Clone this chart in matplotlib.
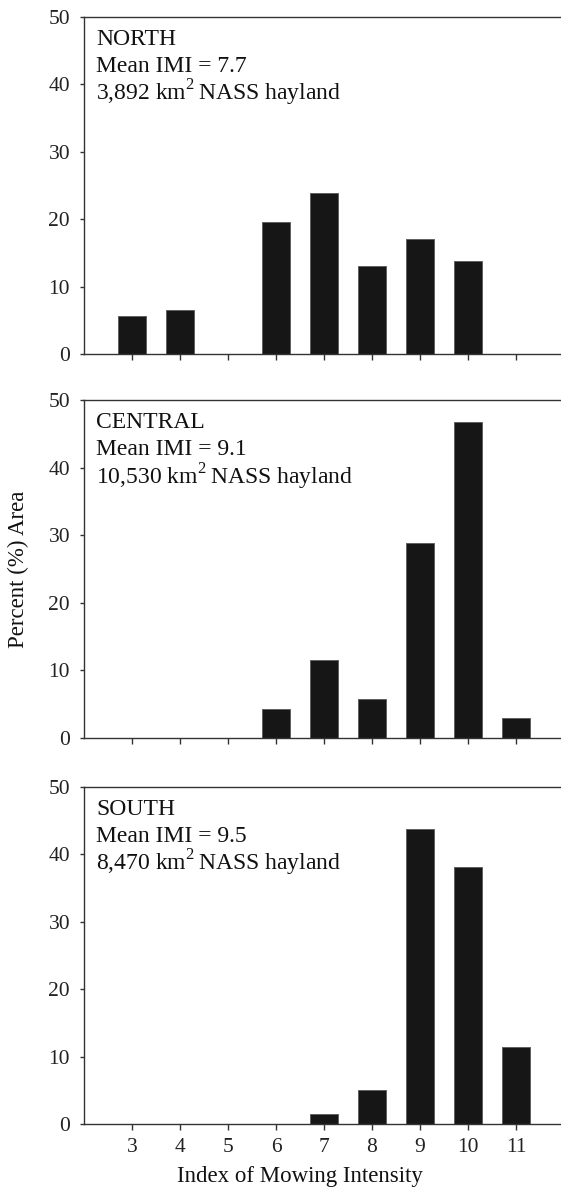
"""Percent of NASS hayland area by Index of Mowing Intensity, three regions."""
import matplotlib
matplotlib.use("Agg")
import matplotlib.pyplot as plt
import numpy as np

plt.rcParams["font.family"] = ["Liberation Serif", "DejaVu Serif"]
plt.rcParams["mathtext.fontset"] = "custom"
plt.rcParams["mathtext.rm"] = "Liberation Serif"

imi = [3, 4, 5, 6, 7, 8, 9, 10, 11]
north = [5.6, 6.5, 0, 19.6, 23.9, 13.1, 17.1, 13.8, 0]
central = [0, 0, 0, 4.3, 11.6, 5.8, 28.9, 46.8, 3.0]
south = [0, 0, 0, 0, 1.5, 5.1, 43.8, 38.2, 11.4]

regions = ["NORTH", "CENTRAL", "SOUTH"]
mean_imi = ["7.7", "9.1", "9.5"]
area_km2 = ["3,892", "10,530", "8,470"]
series = [north, central, south]

W, H = 561, 1187
fig = plt.figure(figsize=(W / 100, H / 100), dpi=100)

# panel extents in pixels (top, bottom); right edge runs past the figure
panels_px = [(17, 354), (400, 738), (787, 1124)]
left_px, right_px = 84, 568
xmax = 2 + (right_px - left_px) / 48.0

for i, (top, bot) in enumerate(panels_px):
    ax = fig.add_axes([left_px / W, (H - bot) / H, (right_px - left_px) / W, (bot - top) / H])
    vals = np.array(series[i], dtype=float)
    x = np.array(imi)
    mask = vals > 0
    ax.bar(x[mask], vals[mask], width=0.6, color="#161616", edgecolor="#606060", linewidth=0.7)
    ax.set_xlim(2, xmax)
    ax.set_ylim(0, 50)
    ax.set_yticks(range(0, 51, 10))
    ax.set_xticks(imi)
    for s in ax.spines.values():
        s.set_color("#333333")
        s.set_linewidth(1.0)
    ax.tick_params(axis="y", direction="out", length=3, width=1, pad=7, labelsize=15.5)
    ax.tick_params(axis="x", direction="out", length=4, width=1, pad=6, labelsize=15.5)
    ax.tick_params(axis="both", colors="#333333", labelcolor="#222222")
    if i < 2:
        ax.set_xticklabels([])

    # annotation block in upper left
    tx = (96 - left_px) / (right_px - left_px)
    h = bot - top
    ax.text(tx, 1 - 28 / h, regions[i], transform=ax.transAxes, fontsize=17, color="#111111", va="baseline")
    ax.text(tx, 1 - 55 / h, f"Mean IMI = {mean_imi[i]}", transform=ax.transAxes, fontsize=17,
            color="#111111", va="baseline")
    ax.text(tx, 1 - 84 / h, area_km2[i] + r" km$^{2}\,$NASS hayland", transform=ax.transAxes,
            fontsize=17, color="#111111", va="baseline")

fig.text(18 / W, 1 - 569 / H, "Percent (%) Area", rotation=90, ha="center", va="center",
         fontsize=16.5, color="#111111")
fig.text(300 / W, 1 - 1182 / H, "Index of Mowing Intensity", ha="center", va="baseline",
         fontsize=16.5, color="#111111")

fig.savefig("out.png", dpi=100)
